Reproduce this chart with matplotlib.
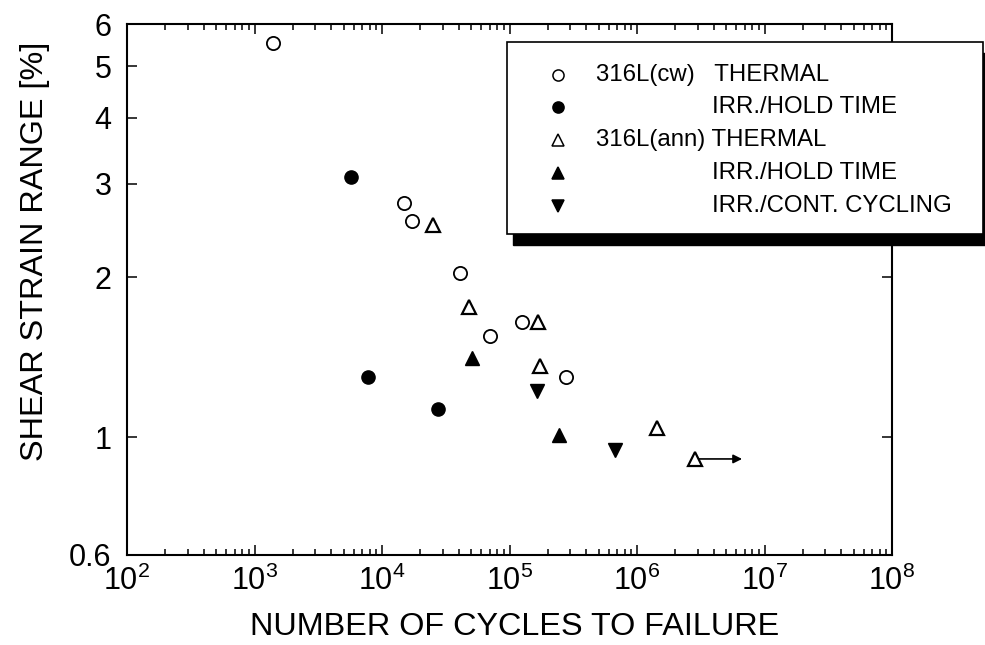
import matplotlib
matplotlib.use("Agg")
import matplotlib.pyplot as plt
from matplotlib.patches import Rectangle
from matplotlib.lines import Line2D
from matplotlib.ticker import FixedLocator, NullFormatter, FixedFormatter, LogFormatterSciNotation

plt.rcParams['font.family'] = ['Liberation Sans', 'DejaVu Sans']
plt.rcParams['mathtext.fontset'] = 'custom'
plt.rcParams['mathtext.rm'] = 'Liberation Sans'

# --- data (cycles to failure, shear strain range %) ---
cw_thermal_x = [1397, 14880, 17180, 40900, 70300, 124700, 276000]
cw_thermal_y = [5.53, 2.76, 2.55, 2.04, 1.55, 1.65, 1.30]

cw_irr_hold_x = [5680, 7810, 27640]
cw_irr_hold_y = [3.09, 1.30, 1.13]

ann_thermal_x = [25120, 48100, 168300, 173500, 1430000, 2850000]
ann_thermal_y = [2.51, 1.76, 1.65, 1.36, 1.04, 0.91]

ann_irr_hold_x = [50800, 244500]
ann_irr_hold_y = [1.41, 1.01]

ann_irr_cont_x = [165200, 668000]
ann_irr_cont_y = [1.22, 0.947]

runout_start_x = 2850000
runout_end_x = 6670000
runout_y = 0.91

x_ticks = [1e2, 1e3, 1e4, 1e5, 1e6, 1e7, 1e8]
y_ticks = [0.6, 1, 2, 3, 4, 5, 6]
y_ticklabels = ['0.6', '1', '2', '3', '4', '5', '6']

legend_labels = ['316L(cw)   THERMAL', 'IRR./HOLD TIME', '316L(ann) THERMAL',
                 'IRR./HOLD TIME', 'IRR./CONT. CYCLING']

W, H = 985, 645
fig = plt.figure(figsize=(W/100, H/100), dpi=100)
ax = fig.add_axes([127/W, 1-555/H, 765/W, 531/H])
ax.set_xscale('log')
ax.set_yscale('log')
ax.set_xlim(x_ticks[0], x_ticks[-1])
ax.set_ylim(0.6, 6)

ms_c = 9.5
ms_t = 10.5
ax.plot(cw_thermal_x, cw_thermal_y, 'o', ms=ms_c, mfc='white', mec='black', mew=1.3, zorder=3)
ax.plot(cw_irr_hold_x, cw_irr_hold_y, 'o', ms=ms_c, mfc='black', mec='black', mew=1.0, zorder=3)
ax.plot(ann_thermal_x, ann_thermal_y, '^', ms=ms_t, mfc='white', mec='black', mew=1.6, zorder=3)
ax.plot(ann_irr_hold_x, ann_irr_hold_y, '^', ms=ms_t, mfc='black', mec='black', mew=1.0, zorder=3)
ax.plot(ann_irr_cont_x, ann_irr_cont_y, 'v', ms=ms_t, mfc='black', mec='black', mew=1.0, zorder=3)

ax.annotate('', xy=(runout_end_x, runout_y), xytext=(runout_start_x * 1.06, runout_y),
            arrowprops=dict(arrowstyle='-|>', color='black', lw=1.2, mutation_scale=13,
                            shrinkA=0, shrinkB=0), zorder=2)

# ticks
minor_x = [m * t for t in x_ticks[:-1] for m in range(2, 10)]
ax.xaxis.set_major_locator(FixedLocator(x_ticks))
ax.xaxis.set_major_formatter(LogFormatterSciNotation())
ax.xaxis.set_minor_locator(FixedLocator(minor_x))
ax.xaxis.set_minor_formatter(NullFormatter())
ax.yaxis.set_major_locator(FixedLocator(y_ticks))
ax.yaxis.set_major_formatter(FixedFormatter(y_ticklabels))
ax.yaxis.set_minor_locator(FixedLocator([]))
ax.tick_params(which='both', direction='in', top=True, right=True, width=1.1)
ax.tick_params(which='major', length=7)
ax.tick_params(which='minor', length=4)
ax.tick_params(axis='y', which='major', labelsize=22, pad=11)
ax.tick_params(axis='x', which='major', labelsize=22, pad=8)
for s in ax.spines.values():
    s.set_linewidth(1.5)

ax.set_xlabel('NUMBER OF CYCLES TO FAILURE', fontsize=23.3)
ax.set_ylabel('SHEAR STRAIN RANGE [%]', fontsize=23.3)
ax.xaxis.set_label_coords((515-127)/765, (555-612)/531)
ax.yaxis.set_label_coords((50-127)/765, (555-251)/531)

# legend box (manual, in figure pixel fractions; it extends beyond the axes)
bx0, bx1, by_top, by_bot = 507, 983, 42, 234
fig.add_artist(Rectangle(((bx0+6)/W, 1-(by_bot+11)/H), (bx1-bx0+4)/W, (by_bot-by_top)/H,
                         transform=fig.transFigure, facecolor='black', edgecolor='black',
                         zorder=5))
fig.add_artist(Rectangle((bx0/W, 1-by_bot/H), (bx1-bx0)/W, (by_bot-by_top)/H,
                         transform=fig.transFigure, facecolor='white', edgecolor='black',
                         lw=1.2, zorder=6))

rows_px = [75, 107, 140, 173, 206]
markers = [('o', 'white'), ('o', 'black'), ('^', 'white'), ('^', 'black'), ('v', 'black')]
text_x_px = [596, 712, 596, 712, 712]
mk_x = 558/W
for (m, fc), lab, ry, tx in zip(markers, legend_labels, rows_px, text_x_px):
    yy = 1 - ry/H
    fig.add_artist(Line2D([mk_x], [yy], marker=m, linestyle='none', transform=fig.transFigure,
                          ms=8 if m == 'o' else 9, mfc=fc, mec='black',
                          mew=1.1, zorder=7))
    fig.text(tx/W, yy, lab, fontsize=17.3, va='center', ha='left', zorder=7)

fig.savefig('out.png', dpi=100)
